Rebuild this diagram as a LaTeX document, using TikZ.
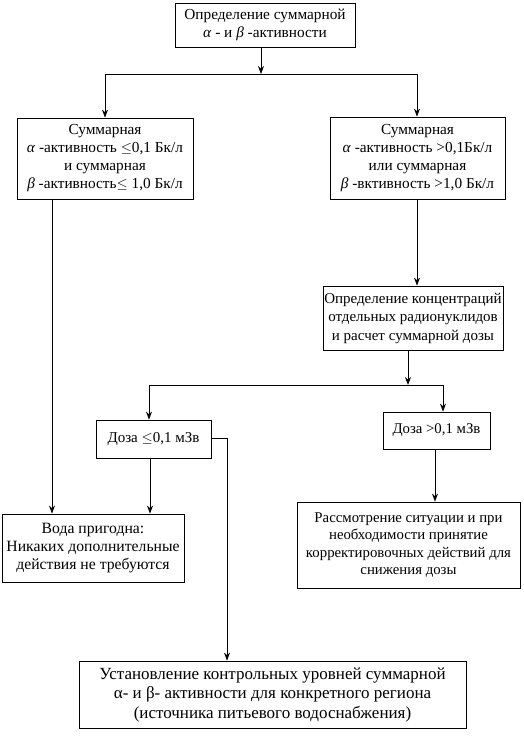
\documentclass[tikz,border=0pt]{standalone}
\usepackage{fontspec}
\setmainfont{Liberation Serif}
\usetikzlibrary{arrows.meta}
\begin{document}
\begin{tikzpicture}[x=1pt,y=1pt,
  box/.style={draw, line width=0.8pt, inner sep=0pt, align=center,
    font=\fontsize{15.3}{18}\selectfont},
  arr/.style={line width=0.8pt, -{Stealth[length=8pt,width=6pt]}},
  ln/.style={line width=0.8pt}]
\useasboundingbox (0,0) rectangle (523,-739);
\node[box, minimum width=180, minimum height=44, font=\fontsize{15.3}{17.5}\selectfont] (b1) at (265,-25)
  {Определение суммарной\\\textit{α} - и \textit{β} -активности};
\node[box, minimum width=176, minimum height=81] (b2) at (105,-158.5)
  {Суммарная\\\textit{α} -активность $\leq$0,1 Бк/л\\и суммарная\\\textit{β} -активность$\leq$ 1,0 Бк/л};
\node[box, minimum width=175, minimum height=82] (b3) at (417.5,-158)
  {Суммарная\\\textit{α} -активность >0,1Бк/л\\или суммарная\\\textit{β} -вктивность >1,0 Бк/л};
\node[box, minimum width=180, minimum height=64, font=\fontsize{15}{18.5}\selectfont] (b4) at (413,-318)
  {Определение концентраций\\отдельных радионуклидов\\и расчет суммарной дозы};
\node[box, minimum width=115, minimum height=38, font=\fontsize{15}{18}\selectfont] (b5) at (153.5,-439)
  {Доза $\leq$0,1 мЗв};
\node[box, minimum width=107, minimum height=37, font=\fontsize{14.8}{18}\selectfont] (b6) at (436.5,-430.5)
  {Доза >0,1 мЗв};
\node[box, minimum width=223, minimum height=86, font=\fontsize{14.8}{17.5}\selectfont] (b7) at (408.5,-545)
  {Рассмотрение ситуации и при\\необходимости принятие\\корректировочных действий для\\снижения дозы};
\node[box, minimum width=182, minimum height=68, font=\fontsize{15.7}{18}\selectfont] (b8) at (93,-548)
  {Вода пригодна:\\Никаких дополнительные\\действия не требуются};
\node[box, minimum width=387, minimum height=67, font=\fontsize{17}{19.5}\selectfont] (b9) at (272.5,-694.5)
  {Установление контрольных уровней суммарной\\α- и β- активности для конкретного региона\\(источника питьевого водоснабжения)};
% junctions
\coordinate (j1) at (261,-74);
\coordinate (j1l) at (105,-74);
\coordinate (j1r) at (417,-74);
\coordinate (j2) at (408,-385);
\coordinate (j2l) at (149,-385);
\coordinate (j2r) at (443,-385);
\coordinate (k5) at (227,-438);
\coordinate (x8a) at (52,0);
\coordinate (x8b) at (150,0);
\coordinate (x7) at (435,0);
\draw[arr] (j1 |- b1.south) -- (j1);
\draw[ln] (j1l) -- (j1r);
\draw[arr] (j1l) -- (j1l |- b2.north);
\draw[arr] (j1r) -- (j1r |- b3.north);
\draw[arr] (j1r |- b3.south) -- (j1r |- b4.north);
\draw[arr] (j2 |- b4.south) -- (j2);
\draw[ln] (j2l) -- (j2r);
\draw[arr] (j2l) -- (j2l |- b5.north);
\draw[arr] (j2r) -- (j2r |- b6.north);
\draw[arr] (k5 -| b5.east) -- (k5) -- (k5 |- b9.north);
\draw[arr] (x8b |- b5.south) -- (x8b |- b8.north);
\draw[arr] (x8a |- b2.south) -- (x8a |- b8.north);
\draw[arr] (x7 |- b6.south) -- (x7 |- b7.north);
\end{tikzpicture}
\end{document}
